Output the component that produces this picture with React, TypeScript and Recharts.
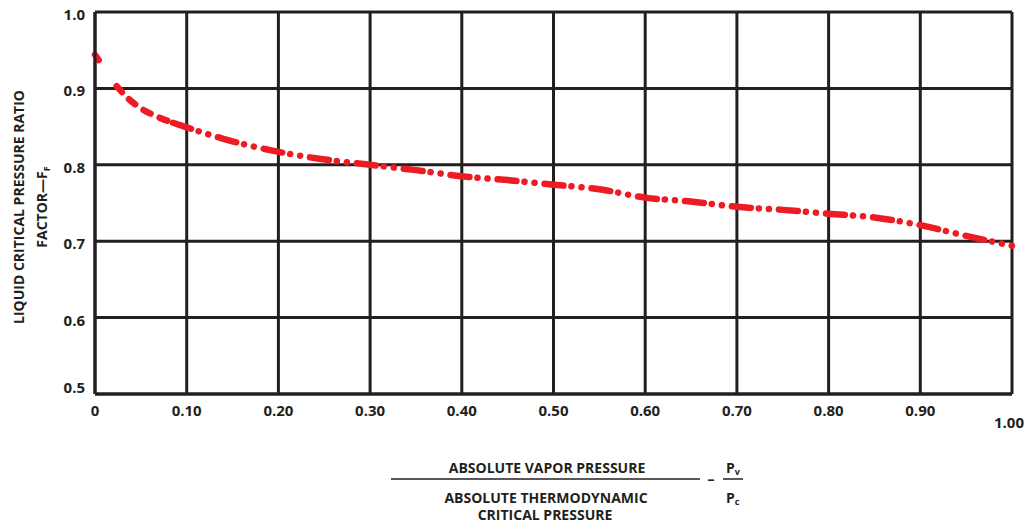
import React from 'react';
import { LineChart, Line, XAxis, YAxis, CartesianGrid } from 'recharts';

// Pv/Pc along the x axis, FF
const pressureRatio = [0, 0.004, 0.0236, 0.036, 0.05, 0.07, 0.085, 0.1, 0.14, 0.2, 0.256, 0.3, 0.35, 0.4, 0.45, 0.5, 0.55, 0.6, 0.65, 0.7, 0.75, 0.8, 0.85, 0.9, 0.95, 1.0];
const ffFactor = [0.944, 0.937, 0.903, 0.887, 0.874, 0.862, 0.855, 0.849, 0.834, 0.817, 0.806, 0.8, 0.793, 0.785, 0.78, 0.774, 0.768, 0.757, 0.752, 0.745, 0.741, 0.736, 0.731, 0.721, 0.707, 0.694];

const xTicks = [0, 0.1, 0.2, 0.3, 0.4, 0.5, 0.6, 0.7, 0.8, 0.9, 1.0];
const xTickLabels = ['0', '0.10', '0.20', '0.30', '0.40', '0.50', '0.60', '0.70', '0.80', '0.90', '1.00'];
const yTicks = [0.5, 0.6, 0.7, 0.8, 0.9, 1.0];
const yTickLabels = ['0.5', '0.6', '0.7', '0.8', '0.9', '1.0'];

// the printed curve starts with a stub, then plain dashes, then dash-dot-dot
const START_END = 1;
const HEAD_START = 2;
const HEAD_END = 6;

const data = pressureRatio.map((x, i) => ({
    x,
    start: i <= START_END ? ffFactor[i] : null,
    head: i >= HEAD_START && i <= HEAD_END ? ffFactor[i] : null,
    tail: i >= HEAD_END ? ffFactor[i] : null,
}));

const FONT = "'Open Sans', sans-serif";
const INK = '#231f20';
const RED = '#ed1c24';

const XTick = (props: any) => {
    const { x, y, payload } = props;
    const i = xTicks.indexOf(payload.value);
    const last = i === xTicks.length - 1;
    return (
        <text x={x + (last ? -3 : 0)} y={y + (last ? 32 : 20)} textAnchor="middle" fontFamily={FONT} fontWeight={700} fontSize={15} fill={INK}>
            {xTickLabels[i]}
        </text>
    );
};

const YTick = (props: any) => {
    const { x, y, payload } = props;
    const i = yTicks.indexOf(payload.value);
    return (
        <text x={x} y={y + (i === 0 ? -1 : 8)} textAnchor="end" fontFamily={FONT} fontWeight={700} fontSize={15} fill={INK}>
            {yTickLabels[i]}
        </text>
    );
};

const textStyle = { fontFamily: FONT, fontWeight: 700, fontSize: 14, fill: INK };

const App: React.FC = () => (
    <div style={{ position: 'absolute', left: 0, top: 0, width: 1031, height: 523, background: '#fff' }}>
        <LineChart width={1031} height={523} data={data} margin={{ top: 12, right: 19, bottom: 0, left: 0 }}>
            <CartesianGrid stroke={INK} strokeWidth={3} />
            <XAxis
                dataKey="x"
                type="number"
                domain={[0, 1]}
                ticks={xTicks}
                height={129}
                tickLine={false}
                tickSize={0}
                axisLine={{ stroke: INK, strokeWidth: 3 }}
                tick={<XTick />}
                interval={0}
            />
            <YAxis
                type="number"
                domain={[0.5, 1]}
                ticks={yTicks}
                width={95}
                tickLine={false}
                tickSize={0}
                tickMargin={10}
                axisLine={{ stroke: INK, strokeWidth: 3 }}
                tick={<YTick />}
                interval={0}
            />
            <Line dataKey="start" type="monotone" stroke={RED} strokeWidth={6.5} strokeLinecap="round" dot={false} activeDot={false} isAnimationActive={false} />
            <Line dataKey="head" type="monotone" stroke={RED} strokeWidth={6.5} strokeLinecap="round" strokeDasharray="8 10" dot={false} activeDot={false} isAnimationActive={false} />
            <Line dataKey="tail" type="monotone" stroke={RED} strokeWidth={6.5} strokeLinecap="round" strokeDasharray="19 8 0.1 10 0.1 10" dot={false} activeDot={false} isAnimationActive={false} />
        </LineChart>
        <svg width={1031} height={523} style={{ position: 'absolute', left: 0, top: 0, pointerEvents: 'none' }}>
            <g transform="translate(24 207) rotate(-90)">
                <text x={0} y={0} textAnchor="middle" style={{ ...textStyle, fontSize: 14 }}>LIQUID CRITICAL PRESSURE RATIO</text>
            </g>
            <g transform="translate(47 207) rotate(-90)">
                <text x={0} y={0} textAnchor="middle" style={{ ...textStyle, fontSize: 14 }}>
                    FACTOR—F<tspan fontSize={9} dy={3}>F</tspan>
                </text>
            </g>
            <text x={547} y={473} textAnchor="middle" style={textStyle}>ABSOLUTE VAPOR PRESSURE</text>
            <line x1={391} x2={700} y1={479} y2={479} stroke={INK} strokeWidth={1.5} />
            <text x={546} y={503} textAnchor="middle" style={textStyle}>ABSOLUTE THERMODYNAMIC</text>
            <text x={545} y={520} textAnchor="middle" style={textStyle}>CRITICAL PRESSURE</text>
            <text x={711} y={484} textAnchor="middle" style={textStyle}>–</text>
            <text x={726} y={473} style={textStyle}>
                P<tspan fontSize={9} dy={2}>v</tspan>
            </text>
            <line x1={723} x2={743} y1={479} y2={479} stroke={INK} strokeWidth={1.5} />
            <text x={726} y={503} style={textStyle}>
                P<tspan fontSize={9} dy={2}>c</tspan>
            </text>
        </svg>
    </div>
);

export default App;
